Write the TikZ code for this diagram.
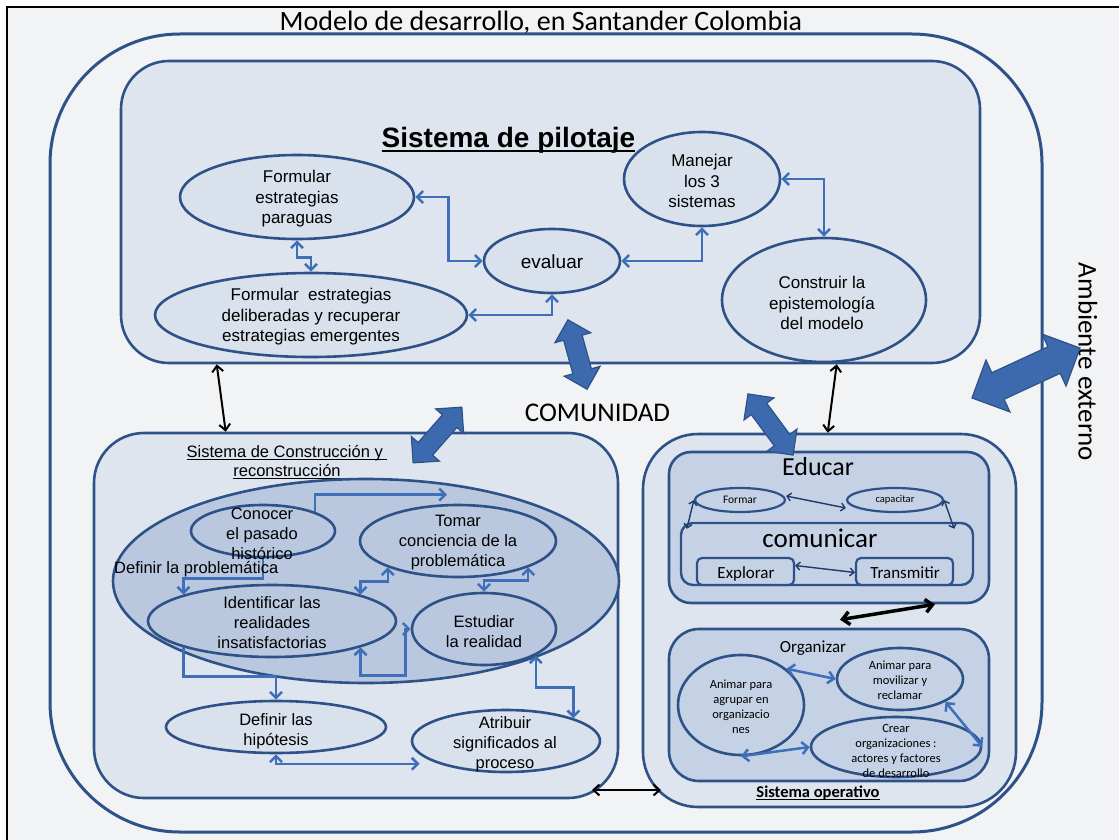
\documentclass[tikz,border=0pt]{standalone}
\usepackage{fontspec}
\setmainfont{Liberation Sans}
\newfontfamily\carlito{Carlito}
\usetikzlibrary{arrows.meta,shapes.geometric,shapes.arrows}

\definecolor{frameBg}{HTML}{F2F3F5}
\definecolor{edge}{HTML}{2E5287}
\definecolor{link}{HTML}{3F6FB8}
\definecolor{paleFill}{HTML}{DFE5EE}
\definecolor{ovalFill}{HTML}{D9E1EC}
\definecolor{midFill}{HTML}{C5D2E6}
\definecolor{deepFill}{HTML}{B9C8DF}
\definecolor{navy}{HTML}{1F3A6B}
\definecolor{bigArrow}{HTML}{3D6AAE}

% underline that runs at a fixed depth below the baseline
\newcommand\ulbox[1]{\setbox0=\hbox{#1}\rlap{\rule[-0.19em]{\wd0}{0.08em}}\box0}

\tikzset{
  panel/.style={rectangle, draw=edge, line width=2.6pt, inner sep=0pt},
  oval/.style={ellipse, draw=edge, line width=2.6pt, inner sep=0pt, fill=ovalFill},
  link/.style={draw=link, line width=2.5pt, >={Straight Barb[length=6pt,width=12pt]}},
  thinlink/.style={draw=navy, line width=1.4pt, >={Straight Barb[length=4pt,width=8pt]}},
  tie/.style={draw=black, line width=2pt, >={Straight Barb[length=6pt,width=11pt]}},
  bigtie/.style={draw=black, line width=3.5pt, >={Straight Barb[length=7pt,width=13pt]}},
  bigarrow/.style={double arrow, draw=edge, line width=1.2pt, fill=bigArrow,
    inner xsep=0pt, double arrow tip angle=90},
  ptxt/.style={align=center, inner sep=0pt, font=\fontsize{17}{20.5}\selectfont},
  ctxt/.style={align=center, inner sep=0pt, font=\fontsize{16.5}{20}\selectfont},
  ktxt/.style={align=center, inner sep=0pt, font=\carlito\fontsize{12.5}{15}\selectfont},
}

\begin{document}
\begin{tikzpicture}[x=1pt,y=-1pt]
\useasboundingbox (0,0) rectangle (1119,840);
\fill[white] (0,0) rectangle (1119,840);
\draw[black, line width=1.5pt, fill=frameBg] (7,7) rectangle (1135,855);

% title and whole model
\node[anchor=base, inner sep=0pt, font=\carlito\fontsize{28}{30}\selectfont] (title) at (541,31)
  {Modelo de desarrollo, en Santander Colombia};
\node[panel, line width=3pt, rounded corners=130pt, minimum width=992, minimum height=798] (model) at (546,433) {};

% ---------- Sistema de pilotaje ----------
\node[panel, fill=paleFill, rounded corners=48pt, minimum width=859, minimum height=302] (pilot) at (550.5,212) {};
\node[anchor=base, inner sep=0pt, font=\bfseries\fontsize{28}{30}\selectfont] (pilotT) at (508.5,147)
  {\ulbox{Sistema de pilotaje}};

\node[oval, minimum width=234, minimum height=84] (paraguas) at (297,197) {};
\node[ptxt] (paraguasT) at (297,199) {Formular\\estrategias\\paraguas};
\node[oval, minimum width=312, minimum height=84] (deliberadas) at (311,315) {};
\node[ptxt] (deliberadasT) at (311,317) {Formular\ \ estrategias\\deliberadas y recuperar\\estrategias emergentes};
\node[oval, minimum width=136, minimum height=64] (evaluar) at (552,261) {};
\node[inner sep=0pt, font=\fontsize{19}{22}\selectfont] (evaluarT) at (552,262) {evaluar};
\node[oval, minimum width=156, minimum height=94] (manejar) at (702,179) {};
\node[ptxt] (manejarT) at (702,181) {Manejar\\los 3\\sistemas};
\node[oval, minimum width=204, minimum height=124] (construir) at (824,300) {};
\node[ptxt] (construirT) at (822,303) {Construir la\\epistemología\\del modelo};

\draw[link,<->] (paraguas.east) -- ++(33,0) |- (evaluar.west);
\draw[link,<->] (deliberadas.east) -| (evaluar.south);
\draw[link,<->] (evaluar.east) -| (manejar.south);
\draw[link,<->] (manejar.east) -| (construir.north);
\draw[link,<->] (paraguas.south) -- ++(0,17) -- ++(14,0) -- (deliberadas.north);

% ---------- Sistema de Construcción y reconstrucción ----------
\node[panel, fill=paleFill, rounded corners=50pt, minimum width=524, minimum height=365] (constr) at (356,615.5) {};
\node[ctxt, font=\fontsize{16.5}{19}\selectfont] (constrT) at (287,462)
  {\ulbox{Sistema de Construcción y\ }\\\ulbox{reconstrucción}};

\node[oval, fill=deepFill, minimum width=506, minimum height=204] (problem) at (366,581) {};
\node[oval, fill=deepFill, minimum width=144, minimum height=52] (conocer) at (263,531) {};
\node[oval, fill=deepFill, minimum width=196, minimum height=72] (tomar) at (458,541) {};
\node[oval, fill=deepFill, minimum width=248, minimum height=72] (identificar) at (272,621) {};
\node[oval, fill=deepFill, minimum width=144, minimum height=72] (estudiar) at (484,629) {};
\node[oval, minimum width=220, minimum height=52] (hipotesis) at (276,727) {};
\node[oval, minimum width=188, minimum height=62] (atribuir) at (506,741) {};

\draw[link,->] (conocer.north east) |- ([xshift=-11pt,yshift=9pt]tomar.north);
\draw[link,->] (conocer.south) -- ++(0,20) -| (identificar.north west);
\draw[link,<->] (identificar.north east) -- ++(0,-13) -| (tomar.south west);
\draw[link,<->] (estudiar.north) -- ++(0,-11) -| (tomar.south east);
\draw[link,<->] (identificar.south east) -- ++(0,28) -- ++(45,0) |- (estudiar.west);
\draw[link,->] (identificar.south west) -- ++(0,29) -| (hipotesis.north);
\draw[link,<->] (hipotesis.south) |- ([xshift=-19pt]atribuir.south west);
\draw[link,<->] (estudiar.south east) -- ++(0,32) -| (atribuir.north east);

\node[ctxt] (conocerT) at (262,534) {Conocer\\el pasado\\histórico};
\node[ctxt] (tomarT) at (458,543) {Tomar\\conciencia de la\\problemática};
\node[ctxt] (identificarT) at (272,623) {Identificar las\\realidades\\insatisfactorias};
\node[ctxt] (estudiarT) at (484,632) {Estudiar\\la realidad};
\node[ctxt] (hipotesisT) at (276,731) {Definir las\\hipótesis};
\node[ctxt] (atribuirT) at (505,744) {Atribuir\\significados al\\proceso};
\node[anchor=base west, inner sep=0pt, font=\fontsize{16.5}{20}\selectfont] (problemT) at (114,573)
  {Definir la problemática};

% ---------- Sistema operativo ----------
\node[panel, fill=paleFill, rounded corners=55pt, minimum width=373, minimum height=373] (oper) at (829.5,620.5) {};
\node[anchor=base, inner sep=0pt, font=\carlito\bfseries\fontsize{16.5}{18}\selectfont] (operT) at (818,797)
  {\ulbox{Sistema operativo}};

\node[panel, fill=midFill, rounded corners=22pt, minimum width=320, minimum height=151] (educar) at (829,527.5) {};
\node[anchor=base, inner sep=0pt, font=\carlito\fontsize{26}{28}\selectfont] (educarT) at (818,475) {Educar};
\node[oval, fill=midFill, line width=2.2pt, minimum width=90, minimum height=24] (formar) at (740,500) {};
\node[inner sep=0pt, font=\carlito\fontsize{11.5}{13}\selectfont] (formarT) at (740,500) {Formar};
\node[oval, fill=midFill, line width=2.2pt, minimum width=96, minimum height=24] (capacitar) at (895,500) {};
\node[inner sep=0pt, font=\carlito\fontsize{10.5}{12}\selectfont] (capacitarT) at (895,500) {capacitar};
\node[panel, fill=midFill, line width=2.4pt, rounded corners=12pt, minimum width=292, minimum height=62] (comun) at (827,554) {};
\node[anchor=base, inner sep=0pt, font=\carlito\fontsize{27}{29}\selectfont] (comunT) at (820,547) {comunicar};
\node[panel, fill=midFill, line width=2.2pt, rounded corners=5pt, minimum width=97, minimum height=27] (explorar) at (745.5,571.5) {};
\node[anchor=base, inner sep=0pt, font=\carlito\fontsize{17}{19}\selectfont] (explorarT) at (746,578) {Explorar};
\node[panel, fill=midFill, line width=2.2pt, rounded corners=5pt, minimum width=97, minimum height=27] (transmitir) at (904.5,571.5) {};
\node[anchor=base, inner sep=0pt, font=\carlito\fontsize{17}{19}\selectfont] (transmitirT) at (905,578) {Transmitir};

\draw[thinlink,<->] ([yshift=4pt]formar.east) -- ([yshift=-8pt]capacitar.west);
\draw[thinlink,<->] (formar.west) -- ([xshift=7pt,yshift=-7pt]comun.north west);
\draw[thinlink,<->] (capacitar.east) -- ([xshift=-20pt,yshift=-7pt]comun.north east);
\draw[thinlink,<->] ([yshift=6pt]explorar.east) -- ([yshift=-1pt]transmitir.west);

\node[panel, fill=midFill, rounded corners=30pt, minimum width=320, minimum height=152] (organizar) at (829,705) {};
\node[anchor=base, inner sep=0pt, font=\carlito\fontsize{17}{19}\selectfont] (organizarT) at (813,652) {Organizar};
\node[oval, fill=midFill, minimum width=126, minimum height=100] (agrupar) at (741,705) {};
\node[ktxt] (agruparT) at (741,707) {Animar para\\agrupar en\\organizacio\\nes};
\node[oval, fill=midFill, minimum width=126, minimum height=62] (movilizar) at (900,679) {};
\node[ktxt] (movilizarT) at (900,680) {Animar para\\movilizar y\\reclamar};
\node[oval, fill=midFill, minimum width=170, minimum height=60] (crear) at (896,747) {};
\node[ktxt] (crearT) at (896,751) {Crear\\organizaciones :\\actores y factores\\de desarrollo};

\draw[link,<->] (agrupar.north east) -- (movilizar.west);
\draw[link,<->] (agrupar.south) -- (crear.west);
\draw[link,<->] (movilizar.south east) -- (crear.east);

\draw[bigtie,<->] ([xshift=11pt,yshift=8pt]organizar.north) -- ([xshift=106pt]educar.south);

% ---------- links between the three systems ----------
\coordinate (pA) at ([xshift=97pt]pilot.south west);
\coordinate (cA) at ([xshift=133pt]constr.north west);
\coordinate (pB) at ([xshift=717pt]pilot.south west);
\coordinate (oB) at ([xshift=186pt]oper.north west);
\coordinate (cC) at (592,790);
\coordinate (oC) at (661,790);
\draw[tie,<->] (pA) -- (cA);
\draw[tie,<->] (pB) -- (oB);
\draw[tie,<->] (cC) -- (oC);

\node[anchor=base, inner sep=0pt, font=\carlito\fontsize{27}{29}\selectfont] (comunidad) at (597.5,421) {COMUNIDAD};
\node[inner sep=0pt, rotate=-90, font=\carlito\fontsize{27}{29}\selectfont] (ambiente) at (1088,362) {Ambiente externo};

% block arrows towards the community and the environment
% (shaft width = 2 * inner ysep, head = shaft + 2 * head extend)
\node[bigarrow, inner ysep=9pt, minimum height=72pt, double arrow head extend=9pt, rotate=-74.6] (arrA) at (577.5,354.5) {};
\node[bigarrow, inner ysep=9pt, minimum height=74pt, double arrow head extend=9pt, rotate=48.8] (arrB) at (437.5,435) {};
\node[bigarrow, inner ysep=9pt, minimum height=76pt, double arrow head extend=9pt, rotate=-53.6] (arrC) at (770.5,424.5) {};
\node[bigarrow, inner ysep=14pt, minimum height=119pt, double arrow head extend=14pt, rotate=24.8] (arrD) at (1026,373) {};
\end{tikzpicture}
\end{document}
